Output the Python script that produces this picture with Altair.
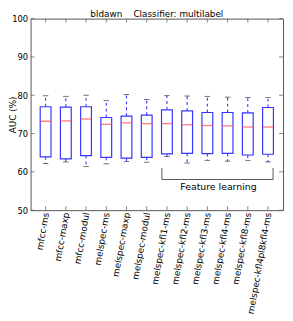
import json
import altair as alt
import pandas as pd

names = ["mfcc-ms", "mfcc-maxp", "mfcc-modul", "melspec-ms", "melspec-maxp",
         "melspec-modul", "melspec-kfl1-ms", "melspec-kfl2-ms", "melspec-kfl3-ms",
         "melspec-kfl4-ms", "melspec-kfl8-ms", "melspec-kfl4pl8kfl4-ms"]
q1 = [63.9, 63.4, 64.25, 63.8, 63.6, 63.8, 64.7, 64.85, 64.75, 64.85, 64.4, 64.6]
q3 = [77.0, 76.9, 77.0, 74.2, 74.55, 74.8, 76.2, 75.9, 75.5, 75.5, 75.4, 76.8]
med = [73.2, 73.3, 73.8, 72.4, 72.8, 72.6, 72.6, 72.3, 72.1, 72.0, 71.7, 71.7]
wmax = [79.85, 79.7, 80.0, 78.6, 80.2, 78.9, 79.9, 79.8, 79.7, 79.5, 79.4, 79.4]
wmin = [62.2, 62.6, 61.4, 62.1, 62.7, 62.5, 64.0, 62.3, 63.0, 62.8, 63.0, 62.6]
yticks = [50, 60, 70, 80, 90, 100]
bracket_x = [6.75, 6.75, 12.25, 12.25]
bracket_y = [61, 58, 58, 61]
group_label = "Feature learning"
group_label_pos = (9.55, 56.0)
title_text = "bldawn\u00a0\u00a0\u00a0\u00a0Classifier: multilabel"

W, H = 257, 195
BLUE = "#3535ff"

df = pd.DataFrame({"pos": list(range(1, len(names) + 1)), "name": names,
                   "q1": q1, "q3": q3, "med": med, "wmax": wmax, "wmin": wmin})

label_expr = json.dumps(names) + "[datum.value - 1]"
xs = alt.Scale(domain=[0.5, 12.5], nice=False, zero=False)
ys = alt.Scale(domain=[50, 100], nice=False, zero=False)

x_axis = alt.Axis(values=list(range(1, len(names) + 1)), labelExpr=label_expr,
                  labelAngle=-80, labelAlign="right", labelBaseline="middle",
                  labelFontSize=9, labelPadding=2, ticks=False, domain=False,
                  grid=False, labelColor="black", labelFont="DejaVu Sans",
                  labelOverlap=False, labelBound=False, title=None)
y_axis = alt.Axis(values=yticks, labelFontSize=8.5, labelPadding=3, ticks=False,
                  domain=False, grid=False, labelColor="black", labelFont="DejaVu Sans",
                  labelOverlap=False, title="AUC (%)", titleFontSize=9,
                  titleFontWeight="normal", titleFont="DejaVu Sans",
                  titleX=-13.5, titleColor="black")

X = alt.X("pos:Q", scale=xs, axis=x_axis)
base = alt.Chart(df)

whisk_hi = base.mark_rule(color=BLUE, strokeWidth=1.1, strokeDash=[3, 3]).encode(
    x=X, y=alt.Y("q3:Q", scale=ys, axis=y_axis), y2="wmax:Q")
whisk_lo = base.mark_rule(color=BLUE, strokeWidth=1.1, strokeDash=[3, 3]).encode(
    x=X, y=alt.Y("q1:Q", scale=ys, axis=y_axis), y2="wmin:Q")
cap_hi = base.mark_tick(color="#333333", orient="horizontal", size=5.5, thickness=1).encode(
    x=X, y=alt.Y("wmax:Q", scale=ys, axis=y_axis))
cap_lo = base.mark_tick(color="#333333", orient="horizontal", size=5.5, thickness=1).encode(
    x=X, y=alt.Y("wmin:Q", scale=ys, axis=y_axis))
box = base.mark_bar(fill="white", stroke=BLUE, strokeWidth=1.2, size=11).encode(
    x=X, y=alt.Y("q1:Q", scale=ys, axis=y_axis), y2="q3:Q")
median = base.mark_tick(color="#ff5050", orient="horizontal", size=11, thickness=1.4).encode(
    x=X, y=alt.Y("med:Q", scale=ys, axis=y_axis))

tick_df = pd.DataFrame({"pos": list(range(1, len(names) + 1))})
ytick_df = pd.DataFrame({"v": yticks})
TC = "#666666"
xt_b = alt.Chart(tick_df).mark_rule(color=TC, strokeWidth=0.8).encode(
    x=X, y=alt.value(H), y2=alt.value(H - 4))
xt_t = alt.Chart(tick_df).mark_rule(color=TC, strokeWidth=0.8).encode(
    x=X, y=alt.value(0), y2=alt.value(4))
yt_l = alt.Chart(ytick_df).mark_rule(color=TC, strokeWidth=0.8).encode(
    y=alt.Y("v:Q", scale=ys, axis=y_axis), x=alt.value(0), x2=alt.value(4))
yt_r = alt.Chart(ytick_df).mark_rule(color=TC, strokeWidth=0.8).encode(
    y=alt.Y("v:Q", scale=ys, axis=y_axis), x=alt.value(W - 4), x2=alt.value(W))

br_df = pd.DataFrame({"pos": bracket_x, "by": bracket_y, "o": list(range(len(bracket_x)))})
bracket = alt.Chart(br_df).mark_line(color="#555555", strokeWidth=1).encode(
    x=X, y=alt.Y("by:Q", scale=ys, axis=y_axis), order="o:Q")
lab_df = pd.DataFrame({"pos": [group_label_pos[0]], "ly": [group_label_pos[1]], "t": [group_label]})
label = alt.Chart(lab_df).mark_text(fontSize=9.5, font="DejaVu Sans", color="black",
                                    baseline="middle", align="center").encode(
    x=X, y=alt.Y("ly:Q", scale=ys, axis=y_axis), text="t:N")

chart = alt.layer(whisk_hi, whisk_lo, cap_hi, cap_lo, box, median,
                  xt_b, xt_t, yt_l, yt_r, bracket, label).properties(
    width=W, height=H,
    title=alt.TitleParams(title_text, fontSize=9,
                          fontWeight="normal", font="DejaVu Sans", offset=-4,
                          anchor="middle", color="black"),
    autosize=alt.AutoSizeParams(type="none"),
    padding={"left": 23, "top": 8, "right": 2, "bottom": 110},
).configure_view(stroke="#555555", strokeWidth=1).configure_axis(labelOverlap=False)

chart.save("out.html", embed_options={"renderer": "svg", "actions": False})
